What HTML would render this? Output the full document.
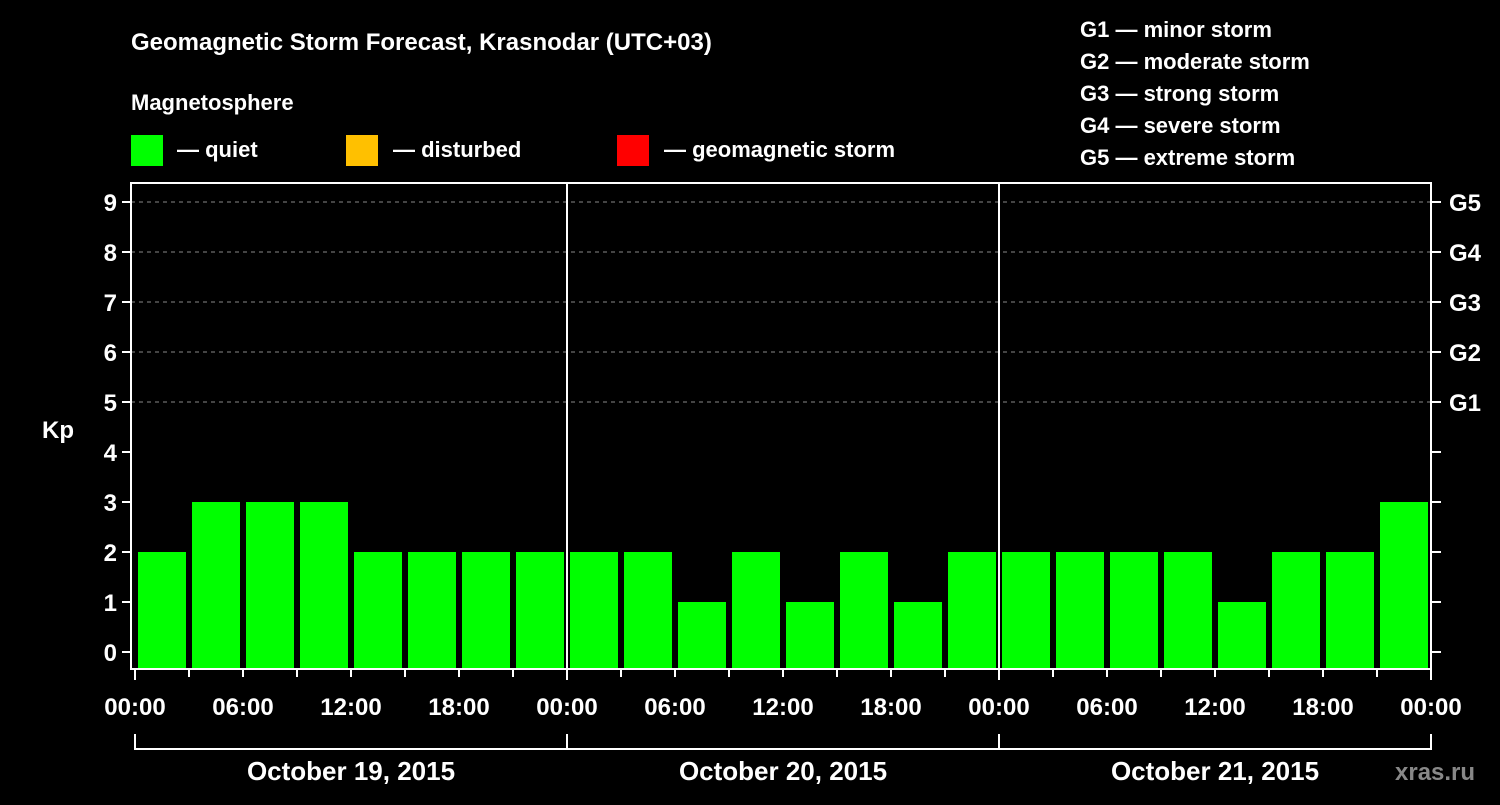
<!DOCTYPE html>
<html><head><meta charset="utf-8"><style>
body{margin:0;background:#000;width:1500px;height:800px;overflow:hidden;font-family:"Liberation Sans",Arial,sans-serif}
svg text{font-family:"Liberation Sans",Arial,sans-serif;font-weight:bold;fill:#fff}
</style></head><body>
<svg id="chart" width="1500" height="800" xmlns="http://www.w3.org/2000/svg">
<text x="131" y="50" font-size="24">Geomagnetic Storm Forecast, Krasnodar (UTC+03)</text>
<text x="131" y="110" font-size="22">Magnetosphere</text>
<rect x="131" y="135" width="32" height="31" fill="#00ff00"/>
<text x="177" y="157" font-size="22">— quiet</text>
<rect x="346" y="135" width="32" height="31" fill="#ffc000"/>
<text x="393" y="157" font-size="22">— disturbed</text>
<rect x="617" y="135" width="32" height="31" fill="#ff0000"/>
<text x="664" y="157" font-size="22">— geomagnetic storm</text>
<g font-size="22">
<text x="1080" y="37">G1 — minor storm</text>
<text x="1080" y="69">G2 — moderate storm</text>
<text x="1080" y="101">G3 — strong storm</text>
<text x="1080" y="133">G4 — severe storm</text>
<text x="1080" y="165">G5 — extreme storm</text>
</g>
<text x="42" y="438" font-size="24">Kp</text>
<text x="1395" y="780" font-size="24" style="fill:#888">xras.ru</text>
<g id="grid"></g><g id="bars"></g><g id="axes"></g>
</svg>
<script>
const days = ["October 19, 2015","October 20, 2015","October 21, 2015"];
const kpValues = [2,3,3,3,2,2,2,2, 2,2,1,2,1,2,1,2, 2,2,2,2,1,2,2,3];
const yTicks = [0,1,2,3,4,5,6,7,8,9];
const gLabels = ["G1","G2","G3","G4","G5"];
const timeLabels = ["00:00","06:00","12:00","18:00"];
const NS="http://www.w3.org/2000/svg";
const X0=135, DAYW=432, SLOT=54, Y0=652, UNIT=50, PL=131, PR=1431, PT=183, PB=668;
const x = i => X0 + i*SLOT;
const y = v => Y0 - v*UNIT;
function mk(tag, attrs, parent, txt){const e=document.createElementNS(NS,tag);for(const k in attrs)e.setAttribute(k,attrs[k]);if(txt!==undefined)e.textContent=txt;parent.appendChild(e);return e;}
const grid=document.getElementById('grid'), bars=document.getElementById('bars'), axes=document.getElementById('axes');
yTicks.forEach(v=>{
  if(v>=5){const l=mk('line',{x1:PL,x2:PR,y1:y(v),y2:y(v),stroke:'#888','stroke-dasharray':'4,4','stroke-width':1},grid);
  
  }
  const t=mk('line',{x1:PL-9,x2:PL,y1:y(v),y2:y(v),stroke:'#fff','stroke-width':2},axes);
  
  
  const t2=mk('line',{x1:PR,x2:PR+10,y1:y(v),y2:y(v),stroke:'#fff','stroke-width':2},axes);
  
  
  const lb=mk('text',{x:PL-14,y:y(v)+9,'text-anchor':'end','font-size':24},axes,String(v));
  
  
});
gLabels.forEach((g,i)=>{
  const lb=mk('text',{x:PR+18,y:y(5+i)+9,'font-size':24},axes,g);
  
  
});
kpValues.forEach((v,i)=>{
  const c = v>=5?'#ff0000':(v>=4?'#ffc000':'#00ff00');
  const r=mk('rect',{x:x(i)+3,y:y(v),width:SLOT-6,height:PB-y(v),fill:c},bars);
  
  
});
const frame=mk('rect',{x:PL,y:PT,width:PR-PL,height:PB-PT+1,fill:'none',stroke:'#fff','stroke-width':2},axes);


for(let d=1;d<days.length;d++){
  const l=mk('line',{x1:X0+d*DAYW,x2:X0+d*DAYW,y1:PT,y2:PB,stroke:'#fff','stroke-width':2},axes);
  
  
}
for(let i=0;i<=kpValues.length;i++){
  const major=i%8===0;
  const t=mk('line',{x1:x(i),x2:x(i),y1:PB,y2:PB+(major?12:9),stroke:'#fff','stroke-width':2},axes);
  
  
  if(i%2===0){
    const lb=mk('text',{x:x(i),y:715,'text-anchor':'middle','font-size':24},axes,timeLabels[(i/2)%4]);
    
    
  }
}
const br=mk('line',{x1:X0,x2:X0+days.length*DAYW,y1:749,y2:749,stroke:'#fff','stroke-width':2},axes);


for(let d=0;d<=days.length;d++){
  const t=mk('line',{x1:X0+d*DAYW,x2:X0+d*DAYW,y1:734,y2:750,stroke:'#fff','stroke-width':2},axes);
  
  
}
days.forEach((d,i)=>{
  const lb=mk('text',{x:X0+i*DAYW+DAYW/2,y:780,'text-anchor':'middle','font-size':26},axes,d);
  
  
});
</script>
</body></html>
